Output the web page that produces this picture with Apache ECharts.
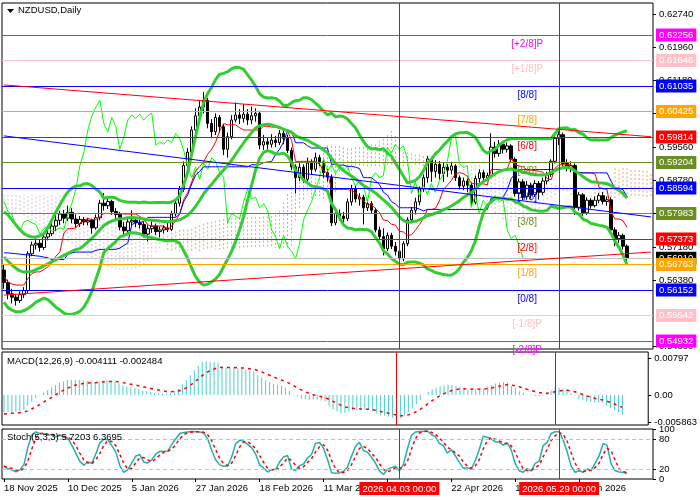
<!DOCTYPE html>
<html>
<head>
<meta charset="utf-8">
<script src="https://cdn.jsdelivr.net/npm/echarts@6/dist/echarts.min.js"></script>
<style>
  html, body { margin: 0; padding: 0; background: #fff; }
  #chart-view { width: 700px; height: 500px; }
</style>
</head>
<body>
<div id="chart-view"></div>
<script>
// daily candles, [open, close, low, high], 18 Nov 2025 onwards
const candles = [
  [0.5663, 0.5633, 0.5618, 0.5676], [0.5633, 0.5606, 0.5593, 0.5640], [0.5606, 0.5598, 0.5583, 0.5618],
  [0.5598, 0.5590, 0.5578, 0.5606], [0.5590, 0.5604, 0.5584, 0.5612], [0.5604, 0.5614, 0.5596, 0.5622],
  [0.5614, 0.5702, 0.5608, 0.5708], [0.5702, 0.5723, 0.5696, 0.5731], [0.5723, 0.5727, 0.5712, 0.5739],
  [0.5727, 0.5717, 0.5707, 0.5735], [0.5717, 0.5742, 0.5711, 0.5750], [0.5742, 0.5750, 0.5734, 0.5764],
  [0.5750, 0.5768, 0.5744, 0.5776], [0.5768, 0.5782, 0.5756, 0.5796], [0.5782, 0.5797, 0.5771, 0.5805],
  [0.5797, 0.5787, 0.5775, 0.5807], [0.5787, 0.5801, 0.5780, 0.5817], [0.5801, 0.5785, 0.5775, 0.5811],
  [0.5785, 0.5774, 0.5764, 0.5796], [0.5774, 0.5784, 0.5766, 0.5792], [0.5784, 0.5778, 0.5770, 0.5790],
  [0.5778, 0.5782, 0.5770, 0.5788], [0.5782, 0.5764, 0.5750, 0.5786], [0.5764, 0.5788, 0.5760, 0.5796],
  [0.5788, 0.5823, 0.5782, 0.5831], [0.5823, 0.5817, 0.5805, 0.5847], [0.5817, 0.5827, 0.5809, 0.5835],
  [0.5827, 0.5803, 0.5795, 0.5831], [0.5803, 0.5796, 0.5782, 0.5811], [0.5796, 0.5766, 0.5758, 0.5802],
  [0.5766, 0.5757, 0.5747, 0.5778], [0.5757, 0.5778, 0.5752, 0.5786], [0.5778, 0.5782, 0.5770, 0.5806],
  [0.5782, 0.5776, 0.5766, 0.5788], [0.5776, 0.5772, 0.5762, 0.5784], [0.5772, 0.5749, 0.5741, 0.5778],
  [0.5749, 0.5762, 0.5731, 0.5770], [0.5762, 0.5768, 0.5752, 0.5782], [0.5768, 0.5755, 0.5747, 0.5774],
  [0.5755, 0.5759, 0.5741, 0.5767], [0.5759, 0.5764, 0.5751, 0.5770], [0.5764, 0.5760, 0.5754, 0.5776],
  [0.5760, 0.5797, 0.5756, 0.5805], [0.5797, 0.5823, 0.5791, 0.5831], [0.5823, 0.5856, 0.5815, 0.5864],
  [0.5856, 0.5913, 0.5850, 0.5923], [0.5913, 0.5945, 0.5903, 0.5955], [0.5945, 0.5998, 0.5938, 0.6007],
  [0.5998, 0.6032, 0.5990, 0.6050], [0.6032, 0.6053, 0.6020, 0.6067], [0.6053, 0.6069, 0.6038, 0.6089],
  [0.6069, 0.6014, 0.6002, 0.6075], [0.6014, 0.5994, 0.5978, 0.6024], [0.5994, 0.6028, 0.5986, 0.6038],
  [0.6028, 0.6006, 0.5992, 0.6034], [0.6006, 0.5952, 0.5938, 0.6012], [0.5952, 0.5982, 0.5932, 0.5992],
  [0.5982, 0.6022, 0.5976, 0.6034], [0.6022, 0.6034, 0.6016, 0.6064], [0.6034, 0.6026, 0.6012, 0.6048],
  [0.6026, 0.6036, 0.6016, 0.6060], [0.6036, 0.6022, 0.6010, 0.6048], [0.6022, 0.6032, 0.6012, 0.6054],
  [0.6032, 0.6038, 0.6018, 0.6050], [0.6038, 0.5962, 0.5952, 0.6044], [0.5962, 0.5970, 0.5950, 0.5986],
  [0.5970, 0.5964, 0.5952, 0.5980], [0.5964, 0.5974, 0.5956, 0.5988], [0.5974, 0.5968, 0.5957, 0.5984],
  [0.5968, 0.5990, 0.5962, 0.5998], [0.5990, 0.5978, 0.5964, 0.6000], [0.5978, 0.5949, 0.5943, 0.5987],
  [0.5949, 0.5910, 0.5902, 0.5956], [0.5910, 0.5884, 0.5846, 0.5916], [0.5884, 0.5909, 0.5876, 0.5919],
  [0.5909, 0.5880, 0.5872, 0.5916], [0.5880, 0.5919, 0.5874, 0.5932], [0.5919, 0.5904, 0.5892, 0.5928],
  [0.5904, 0.5932, 0.5898, 0.5944], [0.5932, 0.5922, 0.5912, 0.5938], [0.5922, 0.5896, 0.5884, 0.5929],
  [0.5896, 0.5885, 0.5875, 0.5905], [0.5885, 0.5776, 0.5768, 0.5891], [0.5776, 0.5798, 0.5770, 0.5806],
  [0.5798, 0.5792, 0.5781, 0.5808], [0.5792, 0.5786, 0.5776, 0.5802], [0.5786, 0.5826, 0.5780, 0.5834],
  [0.5826, 0.5857, 0.5817, 0.5867], [0.5857, 0.5833, 0.5825, 0.5865], [0.5833, 0.5837, 0.5817, 0.5847],
  [0.5837, 0.5812, 0.5772, 0.5843], [0.5812, 0.5822, 0.5804, 0.5832], [0.5822, 0.5806, 0.5798, 0.5828],
  [0.5806, 0.5759, 0.5753, 0.5812], [0.5759, 0.5743, 0.5735, 0.5767], [0.5743, 0.5714, 0.5698, 0.5763],
  [0.5714, 0.5746, 0.5708, 0.5753], [0.5746, 0.5720, 0.5713, 0.5752], [0.5720, 0.5708, 0.5698, 0.5730],
  [0.5708, 0.5690, 0.5680, 0.5716], [0.5690, 0.5726, 0.5684, 0.5732], [0.5726, 0.5783, 0.5720, 0.5789],
  [0.5783, 0.5806, 0.5775, 0.5814], [0.5806, 0.5826, 0.5796, 0.5836], [0.5826, 0.5857, 0.5818, 0.5863],
  [0.5857, 0.5884, 0.5850, 0.5892], [0.5884, 0.5929, 0.5872, 0.5936], [0.5929, 0.5899, 0.5874, 0.5934],
  [0.5899, 0.5916, 0.5884, 0.5926], [0.5916, 0.5894, 0.5880, 0.5924], [0.5894, 0.5909, 0.5874, 0.5919],
  [0.5909, 0.5902, 0.5886, 0.5916], [0.5902, 0.5912, 0.5892, 0.5922], [0.5912, 0.5884, 0.5876, 0.5916],
  [0.5884, 0.5864, 0.5856, 0.5889], [0.5864, 0.5876, 0.5854, 0.5884], [0.5876, 0.5866, 0.5849, 0.5882],
  [0.5866, 0.5825, 0.5817, 0.5872], [0.5825, 0.5882, 0.5820, 0.5889], [0.5882, 0.5896, 0.5872, 0.5904],
  [0.5896, 0.5884, 0.5874, 0.5902], [0.5884, 0.5889, 0.5876, 0.5896], [0.5889, 0.5957, 0.5884, 0.5990],
  [0.5957, 0.5942, 0.5932, 0.5970], [0.5942, 0.5964, 0.5934, 0.5974], [0.5964, 0.5952, 0.5942, 0.5972],
  [0.5952, 0.5960, 0.5944, 0.5968], [0.5960, 0.5928, 0.5921, 0.5964], [0.5928, 0.5846, 0.5839, 0.5933],
  [0.5846, 0.5874, 0.5834, 0.5882], [0.5874, 0.5839, 0.5830, 0.5880], [0.5839, 0.5866, 0.5832, 0.5876],
  [0.5866, 0.5844, 0.5834, 0.5872], [0.5844, 0.5870, 0.5838, 0.5878], [0.5870, 0.5849, 0.5832, 0.5876],
  [0.5849, 0.5876, 0.5842, 0.5884], [0.5876, 0.5892, 0.5868, 0.5898], [0.5892, 0.5923, 0.5886, 0.5928],
  [0.5923, 0.5978, 0.5918, 0.5984], [0.5978, 0.5987, 0.5962, 0.5998], [0.5987, 0.5918, 0.5911, 0.5992],
  [0.5918, 0.5908, 0.5899, 0.5928], [0.5908, 0.5913, 0.5897, 0.5923], [0.5913, 0.5813, 0.5795, 0.5918],
  [0.5813, 0.5843, 0.5805, 0.5850], [0.5843, 0.5800, 0.5793, 0.5847], [0.5800, 0.5830, 0.5795, 0.5837],
  [0.5830, 0.5817, 0.5810, 0.5835], [0.5817, 0.5830, 0.5813, 0.5839], [0.5830, 0.5841, 0.5823, 0.5847],
  [0.5841, 0.5827, 0.5820, 0.5850], [0.5827, 0.5831, 0.5817, 0.5839], [0.5831, 0.5759, 0.5753, 0.5837],
  [0.5759, 0.5738, 0.5720, 0.5765], [0.5738, 0.5746, 0.5728, 0.5754], [0.5746, 0.5720, 0.5712, 0.5750],
  [0.5720, 0.5691, 0.5680, 0.5724],
];

// indicator values at the left edge, where the history before the window is not on the picture
const cloudA0 = [
  0.5800, 0.5800, 0.5800, 0.5799, 0.5797, 0.5793, 0.5788, 0.5782, 0.5776, 0.5770,
  0.5764, 0.5758, 0.5752, 0.5746, 0.5741, 0.5735, 0.5730, 0.5725, 0.5718, 0.5710,
  0.5703, 0.5697, 0.5692, 0.5687, 0.5682, 0.5677, 0.5672, 0.5667, 0.5665, 0.5664,
  0.5664, 0.5665, 0.5665, 0.5667, 0.5670, 0.5675, 0.5685, 0.5695, 0.5705, 0.5715,
  0.5728, 0.5745, 0.5752, 0.5756, 0.5759, 0.5760, 0.5760, 0.5762, 0.5766, 0.5770,
  0.5774, 0.5777, 0.5779, 0.5781, 0.5783, 0.5785, 0.5787, 0.5788, 0.5788, 0.5788,
  0.5789, 0.5789, 0.5790, 0.5790, 0.5790, 0.5791, 0.5791, 0.5792, 0.5795, 0.5805,
  0.5825, 0.5845, 0.5860, 0.5872, 0.5884, 0.5894, 0.5904,
];
const cloudB0 = [
  0.5843, 0.5843, 0.5843, 0.5843, 0.5843, 0.5843, 0.5843, 0.5843, 0.5843, 0.5843,
  0.5843, 0.5843, 0.5843, 0.5843, 0.5843, 0.5843, 0.5805, 0.5795, 0.5790, 0.5785,
  0.5785, 0.5785, 0.5785, 0.5785, 0.5785, 0.5785, 0.5785, 0.5785, 0.5785, 0.5785,
  0.5785, 0.5785, 0.5785, 0.5785, 0.5785, 0.5785, 0.5785, 0.5785, 0.5785, 0.5785,
  0.5785, 0.5708, 0.5708, 0.5708, 0.5708, 0.5708, 0.5708, 0.5708, 0.5708, 0.5708,
  0.5712, 0.5712, 0.5712, 0.5712, 0.5712, 0.5712, 0.5712, 0.5712, 0.5712, 0.5712,
  0.5716, 0.5716, 0.5716, 0.5716, 0.5716, 0.5716, 0.5716, 0.5716, 0.5716, 0.5716,
  0.5716, 0.5716, 0.5718, 0.5780, 0.5810, 0.5830, 0.5845,
];
const kijunHead = [
  0.5704, 0.5704, 0.5703, 0.5702, 0.5701, 0.5700, 0.5699, 0.5698, 0.5697, 0.5696,
  0.5694, 0.5692, 0.5688, 0.5688, 0.5688, 0.5688, 0.5700, 0.5704, 0.5706, 0.5706,
  0.5706, 0.5706, 0.5706, 0.5710, 0.5712,
];
const bbUpHead = [
  0.5802, 0.5795, 0.5783, 0.5771, 0.5759, 0.5750, 0.5745, 0.5742, 0.5742, 0.5745,
  0.5750, 0.5764, 0.5783, 0.5802, 0.5819, 0.5836, 0.5850, 0.5859, 0.5864,
];
const bbMidHead = [
  0.5694, 0.5684, 0.5675, 0.5667, 0.5661, 0.5658, 0.5658, 0.5660, 0.5664, 0.5668,
  0.5673, 0.5678, 0.5683, 0.5688, 0.5693, 0.5698, 0.5703, 0.5708, 0.5712,
];
const bbLowHead = [
  0.5586, 0.5573, 0.5567, 0.5563, 0.5563, 0.5566, 0.5571, 0.5578, 0.5586, 0.5591,
  0.5596, 0.5592, 0.5583, 0.5574, 0.5567, 0.5560, 0.5556, 0.5557, 0.5560,
];
const macdSeed = [-0.0037, -0.0041]; // main, signal at the first bar

// Murrey math levels
const murreyNames = ['[+2/8]P', '[+1/8]P', '[8/8]', '[7/8]', '[6/8]', '[5/8]', '[4/8]', '[3/8]', '[2/8]', '[1/8]', '[0/8]', '[-1/8]P', '[-2/8]P'];
const murreyValues = [0.62256, 0.61646, 0.61035, 0.60425, 0.59814, 0.59204, 0.58594, 0.57983, 0.57373, 0.56763, 0.56152, 0.55542, 0.54932];
const murreyColors = ['#ff00ff', '#ffc0cb', '#0000ff', '#ffa500', '#ff0000', '#6b8e23', '#0000ff', '#6b8e23', '#ff0000', '#ffa500', '#0000ff', '#ffc0cb', '#ff00ff'];
const lastPrice = 0.5691;

// trend lines, [bar, price] -> [bar, price]
const trendLines = [
  [[0, 0.6106], [162, 0.5982]],
  [[0, 0.5984], [162, 0.5790]],
  [[0, 0.5603], [162, 0.5706]],
];
const trendColors = ['#ff0000', '#0000ff', '#ff0000'];

const markedBars = [99, 139];
const markedDates = ['2026.04.03 00:00', '2026.05.29 00:00'];

const priceTicks = [0.6274, 0.6196, 0.6118, 0.6038, 0.5956, 0.5878, 0.5800, 0.5718, 0.5638, 0.5480];
const macdTicks = [0.00797, 0, -0.005863];
const macdTickText = ['0.00797', '0.00', '-0.005863'];
const stochTicks = [100, 80, 20, 0];
const stochLevels = [80, 20];

const xTickIdx = [0, 16, 32, 48, 64, 80, 96, 112, 128, 144];
const xTickText = ['18 Nov 2025', '10 Dec 2025', '5 Jan 2026', '27 Jan 2026', '18 Feb 2026', '11 Mar 2026', '2 Apr 2026', '22 Apr 2026', '14 May 2026', '5 Jun 2026'];

const titleText = 'NZDUSD,Daily';
const macdText = 'MACD(12,26,9) -0.004111 -0.002484';
const stochText = 'Stoch(5,3,3) 5.7203 6.3695';

const SLOTS = 163;
const FONT = 'Liberation Sans';
const cats = Array.from({ length: SLOTS }, (_, i) => String(i));
const n = candles.length;
const closes = candles.map((c) => c[1]);
const lows = candles.map((c) => c[2]);
const highs = candles.map((c) => c[3]);

const midRange = (end, period) => {
  let hi = -Infinity;
  let lo = Infinity;
  for (let k = Math.max(0, end - period + 1); k <= end; k++) {
    hi = Math.max(hi, highs[k]);
    lo = Math.min(lo, lows[k]);
  }
  return (hi + lo) / 2;
};

// ichimoku
const tenkan = candles.map((_, i) => midRange(i, 9));
const kijun = candles.map((_, i) => (i < kijunHead.length ? kijunHead[i] : midRange(i, 26)));
const cloud = [];
for (let i = 0; i < SLOTS; i++) {
  if (i < cloudA0.length) {
    cloud.push([i, cloudA0[i], cloudB0[i]]);
  } else {
    const j = i - 26;
    cloud.push([i, (midRange(j, 9) + midRange(j, 26)) / 2, midRange(j, 52)]);
  }
}
const chikou = cats.map((_, i) => (i + 26 < n ? closes[i + 26] : null));

// bollinger 20, 2
const bbUp = [];
const bbMid = [];
const bbLow = [];
closes.forEach((_, i) => {
  if (i < bbMidHead.length) {
    bbUp.push(bbUpHead[i]);
    bbMid.push(bbMidHead[i]);
    bbLow.push(bbLowHead[i]);
    return;
  }
  const win = closes.slice(i - 19, i + 1);
  const m = win.reduce((s, v) => s + v, 0) / 20;
  const sd = Math.sqrt(win.reduce((s, v) => s + (v - m) * (v - m), 0) / 20);
  bbUp.push(m + 2 * sd);
  bbMid.push(m);
  bbLow.push(m - 2 * sd);
});

// macd 12, 26, 9
const macd = [];
const signal = [];
let e12 = closes[0];
let e26 = closes[0] - macdSeed[0];
let sig = macdSeed[1];
closes.forEach((c, i) => {
  if (i > 0) {
    e12 += (2 / 13) * (c - e12);
    e26 += (2 / 27) * (c - e26);
  }
  const m = e12 - e26;
  if (i > 0) sig += (2 / 10) * (m - sig);
  macd.push(m);
  signal.push(sig);
});

// stochastic 5, 3, 3
const num = [];
const den = [];
closes.forEach((c, i) => {
  let hi = -Infinity;
  let lo = Infinity;
  for (let k = Math.max(0, i - 4); k <= i; k++) {
    hi = Math.max(hi, highs[k]);
    lo = Math.min(lo, lows[k]);
  }
  num.push(c - lo);
  den.push(hi - lo);
});
const stochK = closes.map((_, i) => {
  let a = 0;
  let b = 0;
  for (let k = Math.max(0, i - 2); k <= i; k++) {
    a += num[k];
    b += den[k];
  }
  return b ? (100 * a) / b : 50;
});
const stochD = stochK.map((_, i) => {
  const w = stochK.slice(Math.max(0, i - 2), i + 1);
  return w.reduce((s, v) => s + v, 0) / w.length;
});

const valueBox = (text, bg) => ({
  show: true,
  position: 'end',
  formatter: text,
  color: '#fff',
  backgroundColor: bg,
  padding: [2, 3, 1, 3],
  fontSize: 9.5,
  fontFamily: FONT,
  distance: 3,
});

const verticals = (withLabel) =>
  markedBars.map((b, k) => ({
    xAxis: b,
    lineStyle: { color: '#ff0000', width: 1, type: 'solid' },
    label: withLabel
      ? {
          show: true,
          position: 'start',
          formatter: markedDates[k],
          color: '#fff',
          backgroundColor: '#ff0000',
          padding: [2, 3, 1, 3],
          fontSize: 9.5,
          fontFamily: FONT,
          distance: 3,
        }
      : { show: false },
  }));

const mainLines = [
  {
    yAxis: lastPrice,
    lineStyle: { color: '#c0c0c0', width: 1, type: 'solid' },
    label: valueBox(lastPrice.toFixed(5), '#000000'),
  },
];
murreyValues.forEach((v, k) => {
  mainLines.push({
    yAxis: v,
    lineStyle: { color: murreyColors[k], width: 1, type: 'solid' },
    label: valueBox(v.toFixed(5), murreyColors[k]),
  });
  mainLines.push([
    {
      coord: [100, v],
      lineStyle: { color: 'rgba(0,0,0,0)', width: 0 },
      label: {
        show: true,
        position: 'insideMiddleBottom',
        formatter: murreyNames[k],
        color: murreyColors[k],
        fontSize: 10,
        fontFamily: FONT,
        distance: 4,
      },
    },
    { coord: [162, v] },
  ]);
});
trendLines.forEach((t, k) => {
  mainLines.push([
    { coord: t[0], lineStyle: { color: trendColors[k], width: 1, type: 'solid' }, label: { show: false } },
    { coord: t[1] },
  ]);
});
mainLines.push(...verticals(false));

const grids = [
  { top: 3, height: 346 },
  { top: 352, height: 73 },
  { top: 429, height: 50 },
].map((g) => ({ ...g, left: 2, right: 47, show: true, borderColor: '#000', borderWidth: 1 }));

const xAxes = [0, 1, 2].map((k) => ({
  type: 'category',
  gridIndex: k,
  data: cats,
  boundaryGap: true,
  axisLine: { show: false },
  axisTick:
    k === 2
      ? { show: true, alignWithLabel: true, length: 3, interval: (i) => xTickIdx.includes(i), lineStyle: { color: '#000' } }
      : { show: false },
  axisLabel:
    k === 2
      ? {
          show: true,
          interval: (i) => xTickIdx.includes(i),
          formatter: (v) => xTickText[xTickIdx.indexOf(Number(v))] || '',
          align: 'left',
          color: '#000',
          fontSize: 9.5,
          fontFamily: FONT,
          margin: 4,
        }
      : { show: false },
  splitLine: { show: false },
}));

const yBase = {
  type: 'value',
  position: 'right',
  scale: true,
  splitLine: { show: false },
  axisLine: { show: false },
};
const yAxes = [
  {
    ...yBase,
    gridIndex: 0,
    min: 0.5474,
    max: 0.6302,
    axisTick: { show: true, length: 3, customValues: priceTicks, lineStyle: { color: '#000' } },
    axisLabel: { customValues: priceTicks, formatter: (v) => v.toFixed(5), color: '#000', fontSize: 9.5, fontFamily: FONT, margin: 6 },
  },
  {
    ...yBase,
    gridIndex: 1,
    min: -0.00646,
    max: 0.0093,
    axisTick: { show: true, length: 3, customValues: macdTicks, lineStyle: { color: '#000' } },
    axisLabel: {
      customValues: macdTicks,
      formatter: (v) => macdTickText[macdTicks.findIndex((t) => Math.abs(t - v) < 1e-7)] || '',
      color: '#000',
      fontSize: 9.5,
      fontFamily: FONT,
      margin: 6,
    },
  },
  {
    ...yBase,
    gridIndex: 2,
    min: 0,
    max: 100,
    axisTick: { show: true, length: 3, customValues: stochTicks, lineStyle: { color: '#000' } },
    axisLabel: { customValues: stochTicks, formatter: (v) => String(v), color: '#000', fontSize: 9.5, fontFamily: FONT, margin: 6 },
  },
];

const lineSeries = (name, data, color, width, extra = {}) => ({
  name,
  type: 'line',
  data,
  xAxisIndex: extra.grid || 0,
  yAxisIndex: extra.grid || 0,
  showSymbol: false,
  symbol: 'none',
  connectNulls: false,
  lineStyle: { color, width, type: extra.dash || 'solid' },
  z: extra.z || 3,
  silent: true,
});

const chart = echarts.init(document.getElementById('chart-view'));
chart.setOption({
  animation: false,
  backgroundColor: '#fff',
  textStyle: { fontFamily: FONT },
  title: [
    { text: titleText, left: 18, top: 5, padding: 0, textStyle: { fontSize: 9.5, fontWeight: 'normal', color: '#000', fontFamily: FONT } },
    { text: macdText, left: 7, top: 356, padding: 0, textStyle: { fontSize: 9.5, fontWeight: 'normal', color: '#000', fontFamily: FONT } },
    { text: stochText, left: 7, top: 432, padding: 0, textStyle: { fontSize: 9.5, fontWeight: 'normal', color: '#000', fontFamily: FONT } },
  ],
  graphic: [
    { type: 'polygon', shape: { points: [[7, 9], [14, 9], [10.5, 13]] }, style: { fill: '#000' } },
  ],
  grid: grids,
  xAxis: xAxes,
  yAxis: yAxes,
  series: [
    {
      name: 'cloud',
      type: 'custom',
      data: cloud,
      xAxisIndex: 0,
      yAxisIndex: 0,
      encode: { x: 0, y: [1, 2] },
      silent: true,
      z: 1,
      renderItem: (params, api) => {
        const i = api.value(0);
        const a = api.coord([i, api.value(1)]);
        const b = api.coord([i, api.value(2)]);
        const up = api.value(1) >= api.value(2);
        return {
          type: 'line',
          shape: { x1: a[0], y1: a[1], x2: b[0], y2: b[1] },
          style: { stroke: up ? '#f4a460' : '#d8bfd8', lineWidth: 1, lineDash: [2, 2] },
        };
      },
    },
    {
      name: 'NZDUSD',
      type: 'candlestick',
      data: candles,
      xAxisIndex: 0,
      yAxisIndex: 0,
      barWidth: 3,
      z: 2,
      itemStyle: {
        color: '#ffffff',
        color0: '#000000',
        borderColor: '#000000',
        borderColor0: '#000000',
        borderWidth: 1,
      },
      markLine: {
        silent: true,
        symbol: ['none', 'none'],
        precision: 6,
        animation: false,
        data: mainLines,
      },
    },
    lineSeries('chikou', chikou, '#00ff00', 1),
    lineSeries('tenkan', tenkan, '#ff0000', 1),
    lineSeries('kijun', kijun, '#0000ff', 1),
    lineSeries('bbUp', bbUp, '#32cd32', 3, { z: 4 }),
    lineSeries('bbMid', bbMid, '#32cd32', 3, { z: 4 }),
    lineSeries('bbLow', bbLow, '#32cd32', 3, { z: 4 }),
    {
      name: 'MACD',
      type: 'bar',
      data: macd,
      xAxisIndex: 1,
      yAxisIndex: 1,
      barWidth: 1,
      itemStyle: { color: '#48d1cc' },
      silent: true,
      markLine: { silent: true, symbol: ['none', 'none'], precision: 6, data: verticals(false) },
    },
    lineSeries('signal', signal, '#ff0000', 1.5, { grid: 1, dash: [3, 4], z: 4 }),
    {
      ...lineSeries('stochK', stochK, '#20b2aa', 1.5, { grid: 2 }),
      markLine: {
        silent: true,
        symbol: ['none', 'none'],
        precision: 6,
        data: [
          ...stochLevels.map((v) => ({ yAxis: v, lineStyle: { color: '#c0c0c0', width: 1, type: [4, 3] }, label: { show: false } })),
          ...verticals(true),
        ],
      },
    },
    lineSeries('stochD', stochD, '#ff0000', 1.5, { grid: 2, dash: [3, 3], z: 4 }),
  ],
});
</script>
</body>
</html>
